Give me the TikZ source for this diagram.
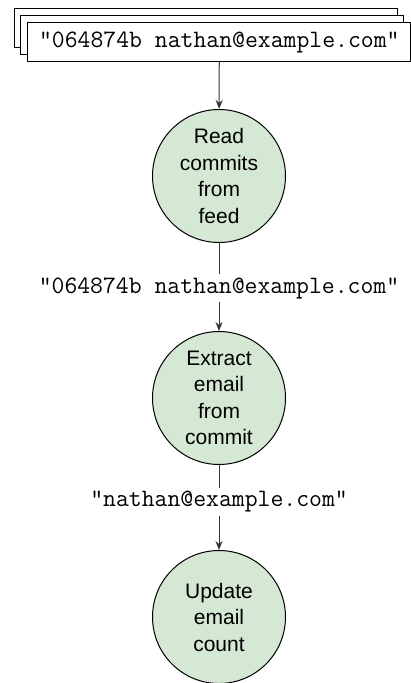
\documentclass[tikz,border=0pt]{standalone}
\usepackage{fontspec}
\setmainfont{Liberation Sans}
\usepackage{tikz}
\usetikzlibrary{arrows.meta,positioning}
\definecolor{stepgreen}{HTML}{D5E8D4}
\definecolor{lineg}{HTML}{333333}
\tikzset{
  databox/.style={draw=black,fill=white,line width=1pt,minimum width=383pt,minimum height=39pt,inner sep=0pt,font=\ttfamily\fontsize{25}{29}\selectfont},
  stepnode/.style={circle,draw=black,fill=stepgreen,line width=1pt,minimum size=133pt,inner sep=0pt,align=center,font=\fontsize{21}{26.5}\selectfont},
  datalabel/.style={fill=white,inner sep=3pt,font=\ttfamily\fontsize{25}{29}\selectfont},
  flow/.style={draw=lineg,line width=1pt,-{Stealth[length=9pt,width=7pt]}},
  link/.style={draw=lineg,line width=1pt}
}

\begin{document}
\begin{tikzpicture}[x=1pt,y=-1pt]
\useasboundingbox (0,0) rectangle (411,683);
% stack of commits
\node (feed3) [databox] at (205.5,28.3) {};
\node (feed2) [databox] at (212.4,35) {};
\node (feed1) [databox] at (219.3,42.2) {"064874b nathan@example.com"};
% steps
\node (read) [stepnode] at (219,176) {Read\\commits\\from\\feed};
\node (commit) [datalabel] at (219,288) {"064874b nathan@example.com"};
\node (extract) [stepnode] at (219,398) {Extract\\email\\from\\commit};
\node (email) [datalabel] at (219,502) {"nathan@example.com"};
\node (update) [stepnode] at (219,617) {Update\\email\\count};
% connectors
\draw [flow] (feed1) -- (read);
\draw [link] (read) -- (commit);
\draw [flow] (commit) -- (extract);
\draw [link] (extract) -- (email);
\draw [flow] (email) -- (update);
\end{tikzpicture}
\end{document}
